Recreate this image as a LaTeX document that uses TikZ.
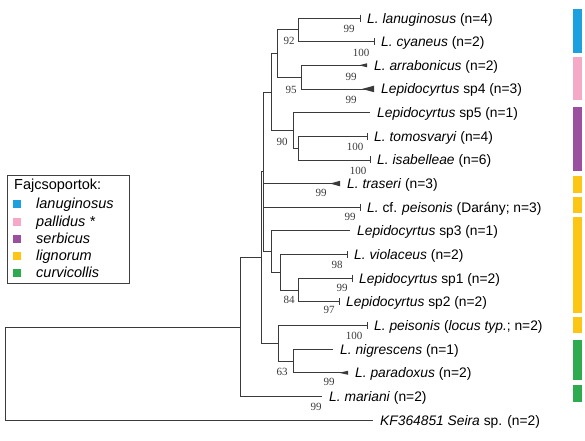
\documentclass[tikz,border=0pt]{standalone}
\usepackage{fontspec}
\setmainfont{Liberation Sans}
\newfontfamily\bsfont{Liberation Serif}
\usepackage{xcolor}
\usetikzlibrary{positioning,calc}
\definecolor{cLan}{HTML}{1DA0E0}
\definecolor{cPal}{HTML}{F5A9C6}
\definecolor{cSer}{HTML}{9B4F9F}
\definecolor{cLig}{HTML}{FDC617}
\definecolor{cCur}{HTML}{2EAA4F}
\definecolor{cBranch}{HTML}{3A3A3A}
\tikzset{
  br/.style={line width=0.8pt,color=cBranch},
  tip/.style={anchor=base west,inner sep=0pt,xshift=7pt,yshift=-5pt,font=\fontsize{13.8}{15}\selectfont,text=black},
  bs/.style={font=\bsfont\fontsize{11}{11}\selectfont,inner sep=0pt,text=cBranch},
  leg/.style={anchor=base west,inner sep=0pt,font=\fontsize{14.5}{16}\selectfont},
}

\begin{document}
\begin{tikzpicture}[x=1pt,y=-1pt]
  \useasboundingbox (0,0) rectangle (585,440);
  % tips (row spacing 23.65)
  \coordinate (tLan) at (360,18.0);
  \coordinate (tCya) at (374,41.65);
  \coordinate (tArr) at (367,65.3);
  \coordinate (tSp4) at (374,88.95);
  \coordinate (tSp5) at (370,112.6);
  \coordinate (tTom) at (367,136.25);
  \coordinate (tIsa) at (370,159.9);
  \coordinate (tTra) at (340,183.55);
  \coordinate (tCfp) at (360,207.2);
  \coordinate (tSp3) at (350,230.85);
  \coordinate (tVio) at (347,254.5);
  \coordinate (tSp1) at (352,278.15);
  \coordinate (tSp2) at (339,301.8);
  \coordinate (tPei) at (367,325.45);
  \coordinate (tNig) at (333,349.1);
  \coordinate (tPar) at (348,372.75);
  \coordinate (tMar) at (322,396.4);
  \coordinate (tSei) at (373,420.05);
  % inner nodes
  \coordinate (nA) at (298,29.8);
  \coordinate (nB) at (301,77.1);
  \coordinate (nAB) at (277,53.5);
  \coordinate (nD) at (298,148.1);
  \coordinate (nC) at (293,130.3);
  \coordinate (nABC) at (271,91.9);
  \coordinate (nH) at (298,290.0);
  \coordinate (nG) at (280,272.2);
  \coordinate (nF) at (271,251.5);
  \coordinate (nJ) at (263,171.7);
  \coordinate (nL) at (293,360.9);
  \coordinate (nK) at (278,343.2);
  \coordinate (nI) at (261,257.4);
  \coordinate (nM) at (240,326.9);
  \coordinate (nRoot) at (5,373.5);
  % branches
  \draw[br] (nA) |- (tLan) (nA) |- (tCya);
  \draw[br] (nB) |- (tArr) (nB) |- (tSp4);
  \draw[br] (nAB) |- (nA) (nAB) |- (nB);
  \draw[br] (nD) |- (tTom) (nD) |- (tIsa);
  \draw[br] (nC) |- (tSp5) (nC) |- (nD);
  \draw[br] (nABC) |- (nAB) (nABC) |- (nC);
  \draw[br] (nH) |- (tSp1) (nH) |- (tSp2);
  \draw[br] (nG) |- (tVio) (nG) |- (nH);
  \draw[br] (nF) |- (tSp3) (nF) |- (nG);
  \draw[br] (nJ) |- (nABC) (nJ) |- (tTra) (nJ) |- (tCfp) (nJ) |- (nF);
  \draw[br] (nL) |- (tNig) (nL) |- (tPar);
  \draw[br] (nK) |- (tPei) (nK) |- (nL);
  \draw[br] (nI) |- (nJ) (nI) |- (nK);
  \draw[br] (nM) |- (nI) (nM) |- (tMar);
  \draw[br] (nRoot) |- (nM) (nRoot) |- (tSei);
  % collapsed tips
  \foreach \t in {tLan,tCya,tTom,tIsa,tCfp,tVio,tSp1,tSp2,tPei}{
    \draw[br] ($(\t)+(0,-3.5)$) -- ($(\t)+(0,3.5)$);}
  \foreach \t/\w/\h in {tArr/8/4,tSp4/12/6.5,tTra/10/5.5,tPar/9/4}{
    \fill[cBranch] ($(\t)+(-\w,0)$) -- ($(\t)+(0,-\h/2)$) -- ($(\t)+(0,\h/2)$) -- cycle;}
  % tip labels
  \node[tip] (lLan) at (tLan) {\textit{L. lanuginosus} (n=4)};
  \node[tip] (lCya) at (tCya) {\textit{L. cyaneus} (n=2)};
  \node[tip] (lArr) at (tArr) {\textit{L. arrabonicus} (n=2)};
  \node[tip] (lSp4) at (tSp4) {\textit{Lepidocyrtus} sp4 (n=3)};
  \node[tip] (lSp5) at (tSp5) {\textit{Lepidocyrtus} sp5 (n=1)};
  \node[tip] (lTom) at (tTom) {\textit{L. tomosvaryi} (n=4)};
  \node[tip] (lIsa) at (tIsa) {\textit{L. isabelleae} (n=6)};
  \node[tip] (lTra) at (tTra) {\textit{L. traseri} (n=3)};
  \node[tip] (lCfp) at (tCfp) {\textit{L.} cf. \textit{peisonis} (Darány; n=3)};
  \node[tip] (lSp3) at (tSp3) {\textit{Lepidocyrtus} sp3 (n=1)};
  \node[tip] (lVio) at (tVio) {\textit{L. violaceus} (n=2)};
  \node[tip] (lSp1) at (tSp1) {\textit{Lepidocyrtus} sp1 (n=2)};
  \node[tip] (lSp2) at (tSp2) {\textit{Lepidocyrtus} sp2 (n=2)};
  \node[tip] (lPei) at (tPei) {\textit{L. peisonis} (\textit{locus typ.}; n=2)};
  \node[tip] (lNig) at (tNig) {\textit{L. nigrescens} (n=1)};
  \node[tip] (lPar) at (tPar) {\textit{L. paradoxus} (n=2)};
  \node[tip] (lMar) at (tMar) {\textit{L. mariani} (n=2)};
  \node[tip] (lSei) at (tSei) {\textit{KF364851 Seira} sp. (n=2)};
  % bootstrap values
  \foreach \x/\y/\v [count=\i] in {349/29/99,289/41/92,361/53/100,351/77/99,291/90/95,351/100/99,
      282/142/90,355/147/100,358/171/100,321/193/99,350/217/99,337/265/98,342/288/99,
      289/300/84,329/310/97,354/336/100,282/372/63,329/382/99,316/407/99}{
    \node[bs] (bs\i) at (\x,\y) {\v};}
  % group bars
  \foreach \a/\b/\c in {9/53/cLan,57/100/cPal,107/171/cSer,176/193/cLig,197/213/cLig,
      217/313/cLig,317/333/cLig,340/380/cCur,385/402/cCur}{
    \fill[\c] (573,\a) rectangle (582,\b);}
  % legend
  \draw[line width=0.8pt,color=black!75] (7,175) rectangle (129,283);
  \node[leg] (legT) at (14,189.5) {Fajcsoportok:};
  \foreach \c/\t/\y [count=\i] in {cLan/lanuginosus/208,cPal/{pallidus *}/226,cSer/serbicus/243,
      cLig/lignorum/260,cCur/curvicollis/277}{
    \fill[\c] (13,\y) rectangle ++(8,-8);
    \node[leg] (leg\i) at (36,\y) {\textit{\t}};}
\end{tikzpicture}
\end{document}
